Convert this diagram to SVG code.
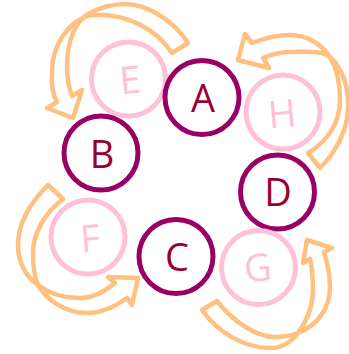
<svg xmlns="http://www.w3.org/2000/svg" width="349" height="354" viewBox="0 0 349 354">
<style>
.arrow{fill:none;stroke:#FFC080;stroke-width:4.5;stroke-linejoin:round}
.dark circle{fill:none;stroke:#990066;stroke-width:5}
.light circle{fill:none;stroke:#FFC0D9;stroke-width:5}
.dark text{fill:#990033}
.light text{fill:#FFC0D9}
text{font-family:"Open Sans","DejaVu Sans",sans-serif;font-size:38px;text-anchor:middle}
</style>
<rect width="349" height="354" fill="#FFFFFF"/>
<g id="connectors">
<path class="arrow" d="M188,43 C176,24 150,4 125,4 C108,4 97,9 88,14 C76,21 67,40 67,67 C67,76 68,86 72,96 L82,90 L73,118 L47,108 L57,102 C53,95 51,85 52,72 C52,45 68,22 90,15 C130,12 158,32 172,53 Z"/>
<path class="arrow" d="M320,168 C338,150 350,125 348,100 C347,82 341,67 330,57 C322,50 305,52 290,52 C278,52 270,55 263,58 L269,68 L238,60 L245,34 L252,43 C262,39 275,35 290,35 C308,35 322,45 330,57 C336,67 340,80 340,100 C340,125 325,143 308,153 Z"/>
<path class="arrow" d="M48,185 C35,198 18,220 18,245 C18,262 26,277 38,285 C50,294 65,298 80,298 C95,298 106,290 115,283 L108,277 L138,278 L132,305 L127,298 C116,306 102,313 87,313 C65,313 47,300 38,285 C34,276 33,265 33,253 C33,232 46,212 63,199 Z"/>
<path class="arrow" d="M202,310 C218,333 245,348 270,348 C283,348 292,341 298,333 C306,322 313,308 313,290 C313,280 312,268 310,259 L303,263 L307,240 L332,248 L324,252 C327,262 330,272 330,287 C330,308 318,325 298,333 C290,336 283,337 275,337 C255,337 232,320 217,301 Z"/>
</g>
<g id="node-E" class="light"><circle cx="128.5" cy="79" r="37"/><text x="130" y="93.5" transform="rotate(-5 130 80)">E</text></g>
<g id="node-A" class="dark"><circle cx="202" cy="97.5" r="37"/><text x="203" y="112">A</text></g>
<g id="node-H" class="light"><circle cx="283" cy="112" r="37"/><text x="282" y="127" transform="rotate(-5 282 113)">H</text></g>
<g id="node-B" class="dark"><circle cx="101" cy="153" r="37"/><text x="102" y="168">B</text></g>
<g id="node-D" class="dark"><circle cx="277.5" cy="192" r="37"/><text x="278" y="206">D</text></g>
<g id="node-F" class="light"><circle cx="88" cy="237" r="37"/><text x="90" y="252" transform="rotate(-5 90 238)">F</text></g>
<g id="node-C" class="dark"><circle cx="176" cy="256.5" r="37"/><text x="177" y="271">C</text></g>
<g id="node-G" class="light"><circle cx="258.5" cy="267.5" r="37"/><text x="258" y="281" transform="rotate(-5 258 268)">G</text></g>
</svg>
